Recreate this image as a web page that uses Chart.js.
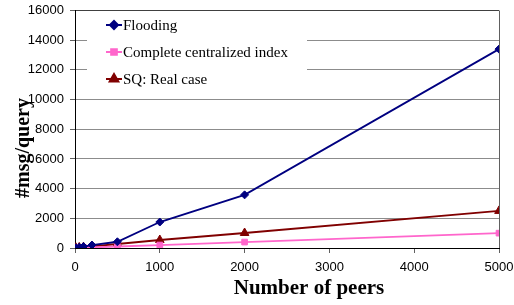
<!DOCTYPE html>
<html><head><meta charset="utf-8">
<script src="https://cdn.jsdelivr.net/npm/chart.js@4/dist/chart.umd.min.js"></script>
<style>html,body{margin:0;padding:0;background:#fff}#w{width:514px;height:305px}</style>
</head><body><div id="w"><canvas id="c"></canvas></div>
<script>
const peers = [10, 50, 100, 200, 500, 1000, 2000, 5000];
const flooding = [10, 50, 100, 200, 420, 1750, 3580, 13400];
const centralized = [5, 20, 40, 40, 100, 200, 400, 1000];
const sqReal = [15, 40, 60, 110, 270, 540, 1010, 2500];
const seriesNames = ['Flooding', 'Complete centralized index', 'SQ: Real case'];
const yTicks = [0, 2000, 4000, 6000, 8000, 10000, 12000, 14000, 16000];
const xTicks = [0, 1000, 2000, 3000, 4000, 5000];
const xTitle = 'Number of peers';
const yTitle = '#msg/query';

const colors = ['#000080', '#FF66CC', '#800000'];
const styles = ['rectRot', 'rect', 'triangle'];
const radii = [4, 4, 5];
const serif = '"Liberation Serif", "Times New Roman", serif';
const sans = '"Liberation Sans", Arial, sans-serif';

function pts(ys){ return peers.map((x,i)=>({x:x, y:ys[i]})); }
const seriesData = [flooding, centralized, sqReal];

const legendPlugin = {
  id: 'boxLegend',
  beforeDatasetsDraw(chart){
    const ctx = chart.ctx;
    const ys = chart.scales.y;
    const bottom = ys.getPixelForValue(10000);
    const top = ys.getPixelForValue(16000);
    ctx.save();
    ctx.fillStyle = '#fff';
    ctx.fillRect(87, top + 1.5, 307 - 87, bottom - top - 3);
    const rowY = [25, 52, 79];
    ctx.font = '15px ' + serif;
    ctx.textBaseline = 'middle';
    chart.data.datasets.forEach((ds, i) => {
      const y = rowY[i];
      ctx.strokeStyle = colors[i];
      ctx.lineWidth = 2;
      ctx.beginPath(); ctx.moveTo(106, y); ctx.lineTo(122, y); ctx.stroke();
      Chart.helpers.drawPoint(ctx, {pointStyle: styles[i], radius: radii[i], rotation: 0, borderWidth: 1}, 114, y);
      ctx.fillStyle = colors[i];
      ctx.fill();
      ctx.fillStyle = '#000';
      ctx.fillText(ds.label, 123, y + 1);
    });
    ctx.restore();
  },
  afterDraw(chart){
    const ctx = chart.ctx;
    ctx.save();
    ctx.fillStyle = '#000';
    ctx.font = 'bold 21px ' + serif;
    ctx.textAlign = 'center';
    ctx.textBaseline = 'alphabetic';
    ctx.fillText(xTitle, 309, 294);
    ctx.translate(29, 148);
    ctx.rotate(-Math.PI / 2);
    ctx.font = 'bold 20px ' + serif;
    ctx.fillText(yTitle, 0, 0);
    ctx.restore();
  }
};

new Chart(document.getElementById('c'), {
  type: 'line',
  data: {
    datasets: seriesData.map((d, i) => ({
      label: seriesNames[i],
      data: pts(d),
      borderColor: colors[i],
      backgroundColor: colors[i],
      borderWidth: 1.8,
      pointStyle: styles[i],
      pointRadius: radii[i],
      pointBorderWidth: 1,
      tension: 0,
      fill: false
    }))
  },
  options: {
    responsive: true,
    maintainAspectRatio: false,
    animation: false,
    devicePixelRatio: 1,
    layout: { padding: { top: 10.5, right: 15, bottom: 0, left: 0 } },
    plugins: { legend: { display: false }, tooltip: { enabled: false } },
    scales: {
      x: {
        type: 'linear', min: 0, max: 5000,
        afterBuildTicks(s){ s.ticks = xTicks.map(v => ({value: v})); },
        afterFit(s){ s.height = 57; s.paddingLeft = 0; s.paddingRight = 0; },
        ticks: { color: '#000', font: { family: sans, size: 13 }, padding: 7, maxRotation: 0,
          callback: v => String(v) },
        grid: {
          drawOnChartArea: true,
          color: ctx => (ctx.tick && ctx.tick.value === 5000) ? '#606060' : 'rgba(0,0,0,0)',
          tickColor: '#606060', tickLength: 5
        },
        border: { color: '#000', width: 1 }
      },
      y: {
        min: 0, max: 16000,
        afterBuildTicks(s){ s.ticks = yTicks.map(v => ({value: v})); },
        afterFit(s){ s.width = 75; s.paddingTop = 0; s.paddingBottom = 0; },
        ticks: { color: '#000', font: { family: sans, size: 13 }, padding: 6,
          callback: v => String(v) },
        grid: { color: ctx => (ctx.tick && ctx.tick.value === 16000) ? '#404040' : '#8c8c8c',
          tickColor: '#606060', tickLength: 5 },
        border: { color: '#000', width: 1 }
      }
    }
  },
  plugins: [legendPlugin]
});
</script>
</body></html>
